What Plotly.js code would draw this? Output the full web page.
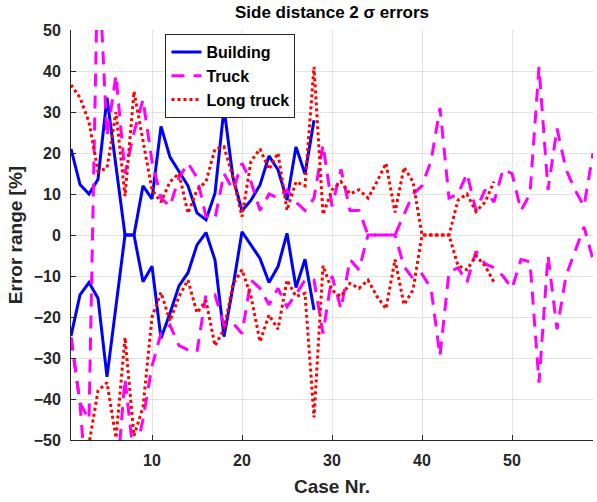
<!DOCTYPE html>
<html>
<head>
<meta charset="utf-8">
<script src="https://cdn.plot.ly/plotly-3.0.1.min.js"></script>
<style>html,body{margin:0;padding:0;background:#fff;}#chart{width:597px;height:502px;}</style>
</head>
<body>
<div id="chart"></div>
<script>
// Series names (legend)
const seriesNames = ['Building', 'Truck', 'Long truck'];

// Building: upper / lower 2-sigma error bounds, cases 1..28
const buildingUpper = [21, 12.3, 10, 13.6, 33.5, 16.8, 0, 0, 12, 8.8, 26.5, 19, 15.5, 12, 5.4, 3.7, 10.2, 30.9, 14, 5.9, 8.5, 12.2, 19.3, 15.9, 8.5, 21.5, 14.9, 28];
const buildingLower = [-24.6, -14.6, -11.6, -15.4, -34.6, -17.3, 0, 0, -11.4, -7.6, -25.2, -19.1, -12.4, -9.2, -2.4, 0.6, -6.1, -24.8, -12.6, 0.8, -2.4, -5.7, -11.6, -7.7, 0.4, -12.8, -5.9, -18.3];

// Truck: cases 1..59
const truckUpper = [-25, -41, -45, 70, 24, 39, 15, 25, 33, 18,
  9, 7, 14, 17.5, 14, 4.5, 4, 15, 11, 17.5,
  13, 6, 10, 9, 11, 8, 6, 9, 22, 7,
  16, 6, 6, 0, 0, 0, 0, 5, 10, 12,
  18, 31, 9, 10, 15, 6, 11, 8, 16, 15,
  6, 10, 41, 11, 26, 16, 11, 7, 20];
const truckLower = [-25, -41, -70, -75, -80, -62, -35, -55, -45, -32,
  -24, -22, -27, -28, -28.5, -14.5, -14.6, -22, -21.5, -24,
  -11, -13, -17, -13, -17.5, -14.5, -11, -11, -24, -10,
  -18, -6, -8.5, 0, 0, 0, 0, -7.7, -10.6, -9.5,
  -13, -29.5, -9, -8, -11.5, -4, -7, -8, -10, -13,
  -6, -6.5, -36, -5, -23, -10, -4, 2, -6];

// Long truck: cases 1..48
const longTruckUpper = [36.6, 33.5, 27.5, 15.5, 16.3, 30, 9.5, 35, 23, 11,
  8, 13, 15, 5.3, 11, 13, 21, 21.5, 14, 4.5,
  18, 21, 16, 20, 6, 13, 12, 41, 5, 11,
  13, 10, 11, 9, 13, 17.5, 5.5, 16.5, 13, 0,
  0, 0, 0, 8.5, 10, 5.7, 8, 13];
const longTruckLower = [-58, -60, -51, -38, -36, -49.5, -25, -49, -42, -20,
  -14, -21, -15, -11, -19, -16, -27, -23, -12, -8.5,
  -15, -26, -19.5, -23, -11, -15, -14.2, -44.5, -7.5, -13.5,
  -15, -11.8, -13, -11, -15, -18, -6, -17, -13.4, 0,
  0, 0, 0, -7.5, -8.5, -5, -7.5, -11.5];

const xTicks = [10, 20, 30, 40, 50];
const yTicks = [-50, -40, -30, -20, -10, 0, 10, 20, 30, 40, 50];
const yTickText = ['−50', '−40', '−30', '−20', '−10', '0', '10', '20', '30', '40', '50'];

function caseNumbers(arr) { return arr.map((_, i) => i + 1); }

const FONT = 'Liberation Sans, Arial, Helvetica, sans-serif';
const styles = [
  {color: '#0000ff', width: 3, dash: 'solid'},
  {color: '#ff00ff', width: 3, dash: '13px,9px'},
  {color: '#ff0000', width: 3, dash: '3px,3px'}
];
const pairs = [[buildingUpper, buildingLower], [truckUpper, truckLower], [longTruckUpper, longTruckLower]];

const traces = [];
pairs.forEach((p, k) => {
  traces.push({x: caseNumbers(p[0]), y: p[0], type: 'scatter', mode: 'lines', name: seriesNames[k],
    legendgroup: 'g' + k, showlegend: true, line: styles[k]});
  traces.push({x: caseNumbers(p[1]), y: p[1], type: 'scatter', mode: 'lines', name: seriesNames[k],
    legendgroup: 'g' + k, showlegend: false, line: styles[k]});
});

const tickFont = {family: FONT, size: 16, color: '#262626', weight: 'bold'};
const layout = {
  width: 597, height: 502,
  margin: {l: 71, r: 4, t: 30, b: 62},
  paper_bgcolor: '#ffffff', plot_bgcolor: '#ffffff',
  font: {family: FONT, color: '#262626'},
  title: {text: 'Side distance 2 σ errors', font: {family: FONT, size: 17, color: '#000000', weight: 'bold'},
    xref: 'paper', x: 0.5, xanchor: 'center', yref: 'container', y: 0.976, yanchor: 'middle'},
  showlegend: true,
  legend: {x: 0.181, y: 0.99, xanchor: 'left', yanchor: 'top', bgcolor: '#ffffff',
    bordercolor: '#262626', borderwidth: 1, font: {family: FONT, size: 16, color: '#000000', weight: 'bold'},
    tracegroupgap: 0},
  xaxis: {range: [1, 59], tickvals: xTicks, ticktext: xTicks.map(String), ticks: 'inside', ticklen: 5,
    tickcolor: '#262626', showline: true, linecolor: '#262626', linewidth: 1, mirror: false,
    showgrid: true, gridcolor: '#e3e3e3', gridwidth: 1, zeroline: false, tickfont: tickFont,
    ticklabelstandoff: 6,
    title: {text: 'Case Nr.', font: {family: FONT, size: 19, color: '#262626', weight: 'bold'}, standoff: 11}},
  yaxis: {range: [-50, 50], tickvals: yTicks, ticktext: yTickText, ticks: 'inside', ticklen: 5,
    tickcolor: '#262626', showline: true, linecolor: '#262626', linewidth: 1, mirror: false,
    showgrid: true, gridcolor: '#e3e3e3', gridwidth: 1, zeroline: false, tickfont: tickFont,
    ticklabelstandoff: 6,
    title: {text: 'Error range [%]', font: {family: FONT, size: 19, color: '#262626', weight: 'bold'}, standoff: 6}}
};

Plotly.newPlot('chart', traces, layout, {staticPlot: true, displayModeBar: false});
</script>
</body>
</html>
